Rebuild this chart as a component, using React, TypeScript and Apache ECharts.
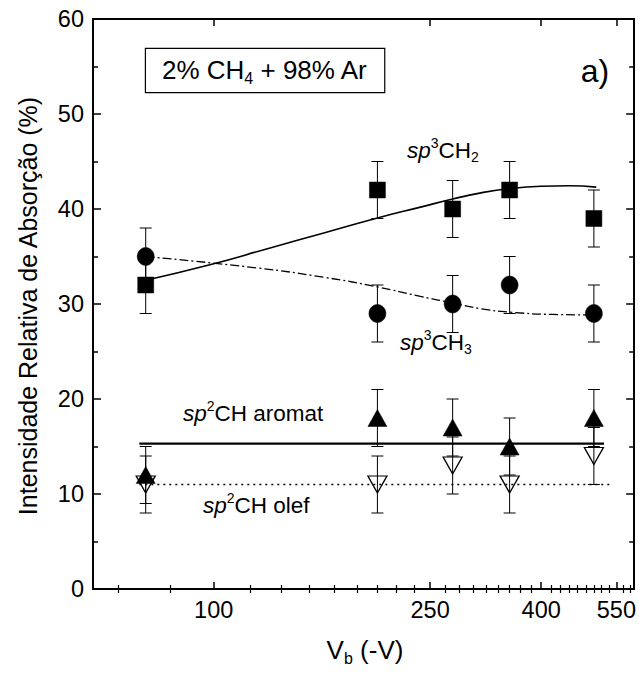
import { useEffect, useRef } from 'react';
import * as echarts from 'echarts';

// ---------- data ----------
const V_B = [75, 200, 275, 350, 500];
const CH2 = [32, 42, 40, 42, 39];
const CH2_ERR = [3, 3, 3, 3, 3];
const CH3 = [35, 29, 30, 32, 29];
const CH3_ERR = [3, 3, 3, 3, 3];
const AROMAT = [12, 18, 17, 15, 18];
const AROMAT_ERR = [3, 3, 3, 3, 3];
const OLEF = [11, 11, 13, 11, 14];
const OLEF_ERR = [3, 3, 3, 3, 3];

const CH2_FIT_V = [75, 98, 127, 160, 200, 240, 275, 310, 350, 400, 450, 505];
const CH2_FIT_Y = [32.5, 34.1, 35.9, 37.5, 39.05, 40.2, 41.05, 41.7, 42.15, 42.4, 42.45, 42.3];
const CH3_FIT_V = [75, 120, 160, 200, 240, 275, 310, 350, 420, 505];
const CH3_FIT_Y = [35.0, 33.8, 32.8, 31.8, 30.8, 30.1, 29.5, 29.15, 28.9, 28.85];
const AROMAT_FIT_V = [73, 522];
const AROMAT_FIT_Y = [15.3, 15.3];
const OLEF_FIT_V = [73, 542];
const OLEF_FIT_Y = [11, 11];

const X_TICKS = [100, 250, 400, 550];
const MINOR_PER_MAJOR = 8;
const X_MIN = 60;
const X_MAX = 593;
const Y_MIN = 0;
const Y_MAX = 60;
const Y_STEP = 10;

const FONT = '"Liberation Sans", Arial, Helvetica, sans-serif';

const lg = (v: number) => Math.log10(v);

const minorTicks: number[] = [];
{
  const step = (X_TICKS[1] - X_TICKS[0]) / (MINOR_PER_MAJOR + 1);
  for (let k = -30; k <= 60; k++) {
    const v = X_TICKS[0] + k * step;
    if (v > X_MIN && v < X_MAX && Math.abs(k % (MINOR_PER_MAJOR + 1)) !== 0) minorTicks.push(v);
  }
}

function errorSeries(vals: number[], errs: number[]) {
  return {
    type: 'custom',
    xAxisIndex: 0,
    yAxisIndex: 0,
    z: 2,
    silent: true,
    data: V_B.map((v, i) => [lg(v), vals[i], errs[i]]),
    renderItem: (_params: any, api: any) => {
      const x = api.value(0);
      const y = api.value(1);
      const e = api.value(2);
      const t = api.coord([x, y + e]);
      const b = api.coord([x, y - e]);
      const hw = 6;
      const st = { stroke: '#000', lineWidth: 1 };
      return {
        type: 'group',
        children: [
          { type: 'line', shape: { x1: t[0], y1: t[1], x2: b[0], y2: b[1] }, style: st },
          { type: 'line', shape: { x1: t[0] - hw, y1: t[1], x2: t[0] + hw, y2: t[1] }, style: st },
          { type: 'line', shape: { x1: b[0] - hw, y1: b[1], x2: b[0] + hw, y2: b[1] }, style: st },
        ],
      };
    },
  };
}

function fitSeries(vs: number[], ys: number[], type: any, width: number, smooth: boolean) {
  return {
    type: 'line',
    xAxisIndex: 0,
    yAxisIndex: 0,
    z: 1,
    silent: true,
    smooth: smooth ? 0.5 : false,
    symbol: 'none',
    data: vs.map((v, i) => [lg(v), ys[i]]),
    lineStyle: { color: '#000', width, type },
  };
}

function scatterSeries(vals: number[], symbol: string, size: any, filled: boolean, rotate = 0) {
  return {
    type: 'scatter',
    xAxisIndex: 0,
    yAxisIndex: 0,
    z: 3,
    silent: true,
    symbol,
    symbolSize: size,
    symbolRotate: rotate,
    data: V_B.map((v, i) => [lg(v), vals[i]]),
    itemStyle: filled
      ? { color: '#000', borderColor: '#000', borderWidth: 0.5, opacity: 1 }
      : { color: 'rgba(255,255,255,0)', borderColor: '#000', borderWidth: 1.3, opacity: 1 },
  };
}

const richBase = (size: number) => ({
  n: { fontSize: size, fontFamily: FONT, color: '#000', lineHeight: size + 6, verticalAlign: 'middle' },
  i: { fontSize: size, fontFamily: FONT, fontStyle: 'italic', color: '#000', lineHeight: size + 6, verticalAlign: 'middle' },
  sup: { fontSize: Math.round(size * 0.6), fontFamily: FONT, color: '#000', lineHeight: Math.round(size * 0.6) + 2, verticalAlign: 'top' },
  sub: { fontSize: Math.round(size * 0.6), fontFamily: FONT, color: '#000', lineHeight: Math.round(size * 0.6) + 2, verticalAlign: 'bottom' },
});

export default function App() {
  const ref = useRef<HTMLDivElement>(null);

  useEffect(() => {
    if (!ref.current) return;
    const chart = echarts.init(ref.current, undefined, { renderer: 'svg' });

    const xBase = {
      type: 'value',
      min: lg(X_MIN),
      max: lg(X_MAX),
      splitLine: { show: false },
      minorSplitLine: { show: false },
    };
    const axisLine = { show: true, onZero: false, lineStyle: { color: '#000', width: 2 } };

    const option: any = {
      animation: false,
      backgroundColor: '#fff',
      grid: { left: 93, right: 4, top: 19, bottom: 86, containLabel: false },
      xAxis: [
        {
          ...xBase,
          position: 'bottom',
          axisLine,
          axisTick: {
            show: true,
            inside: true,
            length: 7,
            lineStyle: { color: '#000', width: 1.5 },
            customValues: X_TICKS.map(lg),
          },
          axisLabel: {
            show: true,
            customValues: X_TICKS.map(lg),
            formatter: (v: number) => String(Math.round(Math.pow(10, v))),
            fontSize: 23.5,
            fontFamily: FONT,
            color: '#000',
            margin: 9,
          },
        },
        {
          ...xBase,
          position: 'bottom',
          axisLine: { show: false },
          axisTick: {
            show: true,
            inside: true,
            length: 4,
            lineStyle: { color: '#000', width: 1.2 },
            customValues: minorTicks.map(lg),
          },
          axisLabel: { show: false },
        },
        {
          ...xBase,
          position: 'top',
          axisLine,
          axisTick: {
            show: true,
            inside: true,
            length: 7,
            lineStyle: { color: '#000', width: 1.5 },
            customValues: X_TICKS.map(lg),
          },
          axisLabel: { show: false },
        },
        {
          ...xBase,
          position: 'top',
          axisLine: { show: false },
          axisTick: {
            show: true,
            inside: true,
            length: 4,
            lineStyle: { color: '#000', width: 1.2 },
            customValues: minorTicks.map(lg),
          },
          axisLabel: { show: false },
        },
      ],
      yAxis: [
        {
          type: 'value',
          min: Y_MIN,
          max: Y_MAX,
          interval: Y_STEP,
          position: 'left',
          axisLine,
          axisTick: { show: true, inside: true, length: 8, lineStyle: { color: '#000', width: 1.5 } },
          minorTick: { show: true, splitNumber: 2, length: 5, lineStyle: { color: '#000', width: 1.5 } },
          axisLabel: { fontSize: 23.5, fontFamily: FONT, color: '#000', margin: 9 },
          splitLine: { show: false },
          minorSplitLine: { show: false },
        },
        {
          type: 'value',
          min: Y_MIN,
          max: Y_MAX,
          interval: Y_STEP,
          position: 'right',
          axisLine,
          axisTick: { show: true, inside: true, length: 8, lineStyle: { color: '#000', width: 1.5 } },
          minorTick: { show: true, splitNumber: 2, length: 5, lineStyle: { color: '#000', width: 1.5 } },
          axisLabel: { show: false },
          splitLine: { show: false },
          minorSplitLine: { show: false },
        },
      ],
      series: [
        fitSeries(CH2_FIT_V, CH2_FIT_Y, 'solid', 1.6, true),
        fitSeries(CH3_FIT_V, CH3_FIT_Y, [9, 3, 2, 3], 1.3, true),
        fitSeries(AROMAT_FIT_V, AROMAT_FIT_Y, 'solid', 2.2, false),
        fitSeries(OLEF_FIT_V, OLEF_FIT_Y, [2, 4], 1.4, false),
        errorSeries(CH2, CH2_ERR),
        errorSeries(CH3, CH3_ERR),
        errorSeries(AROMAT, AROMAT_ERR),
        errorSeries(OLEF, OLEF_ERR),
        scatterSeries(CH2, 'rect', 16, true),
        scatterSeries(CH3, 'circle', [17, 18], true),
        scatterSeries(AROMAT, 'triangle', [19, 17], true),
        scatterSeries(OLEF, 'triangle', [19, 17], false, 180),
      ],
      graphic: [
        {
          type: 'text',
          x: 28,
          y: 306,
          rotation: Math.PI / 2,
          style: {
            text: 'Intensidade Relativa de Absorção (%)',
            fontSize: 25,
            fontFamily: FONT,
            fill: '#000',
            align: 'center',
            verticalAlign: 'middle',
          },
        },
        {
          type: 'text',
          x: 365,
          y: 650,
          style: {
            text: '{n|V}{sub|b}{n| (-V)}',
            rich: richBase(26),
            align: 'center',
            verticalAlign: 'middle',
          },
        },
        {
          type: 'text',
          x: 146,
          y: 49,
          style: {
            text: '{n|2% CH}{sub|4}{n| + 98% Ar}',
            rich: richBase(26),
            align: 'left',
            verticalAlign: 'top',
            borderColor: '#000',
            borderWidth: 1.2,
            padding: [5, 16, 6, 16],
            backgroundColor: '#fff',
          },
        },
        {
          type: 'text',
          x: 595,
          y: 71,
          style: { text: 'a)', fontSize: 32, fontFamily: FONT, fill: '#000', align: 'center', verticalAlign: 'middle' },
        },
        {
          type: 'text',
          x: 407,
          y: 150,
          style: { text: '{i|sp}{sup|3}{n|CH}{sub|2}', rich: richBase(22.5), align: 'left', verticalAlign: 'middle' },
        },
        {
          type: 'text',
          x: 400,
          y: 342,
          style: { text: '{i|sp}{sup|3}{n|CH}{sub|3}', rich: richBase(22.5), align: 'left', verticalAlign: 'middle' },
        },
        {
          type: 'text',
          x: 183,
          y: 413,
          style: { text: '{i|sp}{sup|2}{n|CH aromat}', rich: richBase(22.5), align: 'left', verticalAlign: 'middle' },
        },
        {
          type: 'text',
          x: 203,
          y: 505,
          style: { text: '{i|sp}{sup|2}{n|CH olef}', rich: richBase(22.5), align: 'left', verticalAlign: 'middle' },
        },
      ],
    };

    chart.setOption(option);
    return () => chart.dispose();
  }, []);

  return (
    <div
      ref={ref}
      style={{ position: 'absolute', left: 0, top: 0, width: 639, height: 675, background: '#fff' }}
    />
  );
}
